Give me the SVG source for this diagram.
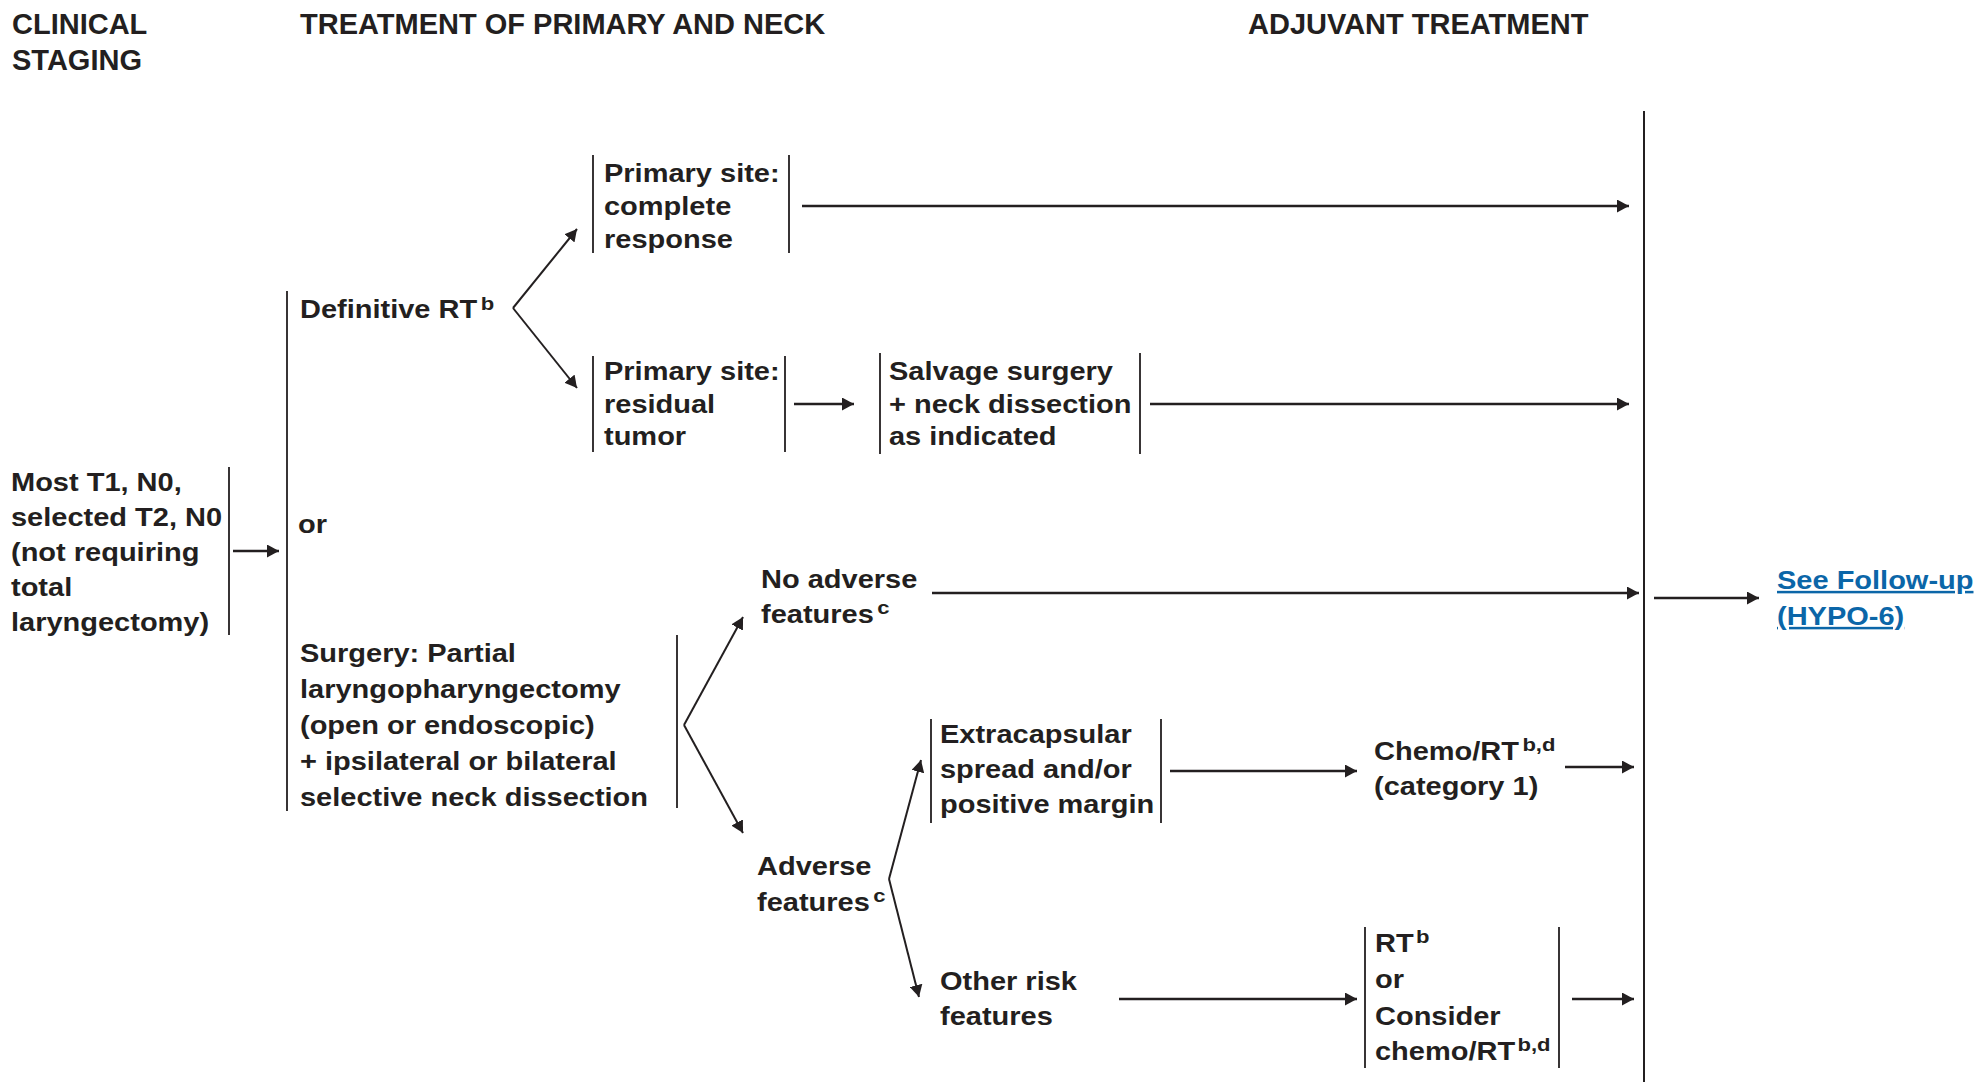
<svg xmlns="http://www.w3.org/2000/svg" width="1980" height="1082" viewBox="0 0 1980 1082">
  <style>
    .h { font-family: "Liberation Sans", Arial, Helvetica, sans-serif; font-weight: bold; font-size: 29px; fill: #231f20; }
    .t { font-family: "Liberation Sans", Arial, Helvetica, sans-serif; font-weight: bold; font-size: 25px; fill: #231f20; }
    .sup { font-size: 19px; }
    .link { fill: #0b66a8; text-decoration: underline; }
    .br { stroke: #231f20; stroke-width: 1.8; fill: none; }
    .vl { stroke: #231f20; stroke-width: 2; fill: none; }
    .ar { stroke: #231f20; stroke-width: 2.5; fill: none; marker-end: url(#head); }
    .dg { stroke: #231f20; stroke-width: 2; fill: none; marker-end: url(#head); }
  </style>
  <defs>
    <marker id="head" markerUnits="userSpaceOnUse" markerWidth="12" markerHeight="13" refX="12" refY="6.5" orient="auto">
      <path d="M0,0 L12,6.5 L0,13 Z" fill="#231f20"/>
    </marker>
  </defs>
  <rect width="1980" height="1082" fill="#ffffff"/>

  <!-- column headings -->
  <g id="headings">
    <text class="h"><tspan x="12" y="34">CLINICAL</tspan><tspan x="12" y="70">STAGING</tspan></text>
    <text class="h" x="300" y="34">TREATMENT OF PRIMARY AND NECK</text>
    <text class="h" x="1248" y="34">ADJUVANT TREATMENT</text>
  </g>

  <!-- nodes: body text is set in a horizontally widened bold sans -->
  <g id="n-staging">
    <g transform="translate(11 0) scale(1.16 1)">
      <text class="t"><tspan x="0" y="491">Most T1, N0,</tspan><tspan x="0" y="526">selected T2, N0</tspan><tspan x="0" y="561">(not requiring</tspan><tspan x="0" y="596">total</tspan><tspan x="0" y="631">laryngectomy)</tspan></text>
    </g>
    <line class="br" x1="229" y1="467" x2="229" y2="635"/>
  </g>

  <g id="n-options">
    <line class="br" x1="287" y1="291" x2="287" y2="811"/>
  </g>

  <g id="n-definitive-rt">
    <g transform="translate(300 0) scale(1.16 1)">
      <text class="t"><tspan x="0" y="318">Definitive RT</tspan><tspan class="sup" dx="3" dy="-8">b</tspan></text>
    </g>
  </g>

  <g id="n-or">
    <g transform="translate(298 0) scale(1.16 1)">
      <text class="t" x="0" y="533">or</text>
    </g>
  </g>

  <g id="n-surgery">
    <g transform="translate(300 0) scale(1.16 1)">
      <text class="t"><tspan x="0" y="662">Surgery: Partial</tspan><tspan x="0" y="698">laryngopharyngectomy</tspan><tspan x="0" y="734">(open or endoscopic)</tspan><tspan x="0" y="770">+ ipsilateral or bilateral</tspan><tspan x="0" y="806">selective neck dissection</tspan></text>
    </g>
    <line class="br" x1="677" y1="635" x2="677" y2="808"/>
  </g>

  <g id="n-complete-response">
    <line class="br" x1="593" y1="155" x2="593" y2="253"/>
    <g transform="translate(604 0) scale(1.16 1)">
      <text class="t"><tspan x="0" y="182">Primary site:</tspan><tspan x="0" y="215">complete</tspan><tspan x="0" y="248">response</tspan></text>
    </g>
    <line class="br" x1="789" y1="155" x2="789" y2="253"/>
  </g>

  <g id="n-residual-tumor">
    <line class="br" x1="593" y1="356" x2="593" y2="452"/>
    <g transform="translate(604 0) scale(1.16 1)">
      <text class="t"><tspan x="0" y="380">Primary site:</tspan><tspan x="0" y="413">residual</tspan><tspan x="0" y="445">tumor</tspan></text>
    </g>
    <line class="br" x1="785" y1="356" x2="785" y2="452"/>
  </g>

  <g id="n-salvage">
    <line class="br" x1="880" y1="353" x2="880" y2="454"/>
    <g transform="translate(889 0) scale(1.16 1)">
      <text class="t"><tspan x="0" y="380">Salvage surgery</tspan><tspan x="0" y="413">+ neck dissection</tspan><tspan x="0" y="445">as indicated</tspan></text>
    </g>
    <line class="br" x1="1140" y1="353" x2="1140" y2="454"/>
  </g>

  <g id="n-no-adverse">
    <g transform="translate(761 0) scale(1.16 1)">
      <text class="t"><tspan x="0" y="588">No adverse</tspan><tspan x="0" y="623">features</tspan><tspan class="sup" dx="3" dy="-9">c</tspan></text>
    </g>
  </g>

  <g id="n-adverse">
    <g transform="translate(757 0) scale(1.16 1)">
      <text class="t"><tspan x="0" y="875">Adverse</tspan><tspan x="0" y="911">features</tspan><tspan class="sup" dx="3" dy="-9">c</tspan></text>
    </g>
  </g>

  <g id="n-extracapsular">
    <line class="br" x1="931" y1="719" x2="931" y2="823"/>
    <g transform="translate(940 0) scale(1.16 1)">
      <text class="t"><tspan x="0" y="743">Extracapsular</tspan><tspan x="0" y="778">spread and/or</tspan><tspan x="0" y="813">positive margin</tspan></text>
    </g>
    <line class="br" x1="1161" y1="719" x2="1161" y2="823"/>
  </g>

  <g id="n-other-risk">
    <g transform="translate(940 0) scale(1.16 1)">
      <text class="t"><tspan x="0" y="990">Other risk</tspan><tspan x="0" y="1025">features</tspan></text>
    </g>
  </g>

  <g id="n-chemo-rt">
    <g transform="translate(1374 0) scale(1.16 1)">
      <text class="t"><tspan x="0" y="760">Chemo/RT</tspan><tspan class="sup" dx="3" dy="-9">b,d</tspan><tspan x="0" y="795">(category 1)</tspan></text>
    </g>
  </g>

  <g id="n-rt-or-chemo">
    <line class="br" x1="1365" y1="927" x2="1365" y2="1068"/>
    <g transform="translate(1375 0) scale(1.16 1)">
      <text class="t"><tspan x="0" y="952">RT</tspan><tspan class="sup" dx="2" dy="-9">b</tspan><tspan x="0" y="988">or</tspan><tspan x="0" y="1025">Consider</tspan><tspan x="0" y="1060">chemo/RT</tspan><tspan class="sup" dx="2" dy="-9">b,d</tspan></text>
    </g>
    <line class="br" x1="1559" y1="927" x2="1559" y2="1068"/>
  </g>

  <g id="n-collector">
    <line class="vl" x1="1644" y1="111" x2="1644" y2="1082"/>
  </g>

  <g id="n-follow-up">
    <g transform="translate(1777 0) scale(1.16 1)">
      <text class="t link"><tspan x="0" y="589">See Follow-up</tspan><tspan x="0" y="625">(HYPO-6)</tspan></text>
    </g>
  </g>

  <!-- connectors -->
  <g id="connectors">
    <line class="ar" x1="233" y1="551" x2="279" y2="551"/>
    <line class="dg" x1="513" y1="308" x2="577" y2="229"/>
    <line class="dg" x1="513" y1="308" x2="577" y2="388"/>
    <line class="ar" x1="802" y1="206" x2="1629" y2="206"/>
    <line class="ar" x1="794" y1="404" x2="854" y2="404"/>
    <line class="ar" x1="1150" y1="404" x2="1629" y2="404"/>
    <line class="dg" x1="684" y1="725" x2="743" y2="617"/>
    <line class="dg" x1="684" y1="725" x2="743" y2="833"/>
    <line class="ar" x1="932" y1="593" x2="1639" y2="593"/>
    <line class="dg" x1="889" y1="879" x2="921" y2="760"/>
    <line class="dg" x1="889" y1="879" x2="919" y2="997"/>
    <line class="ar" x1="1170" y1="771" x2="1357" y2="771"/>
    <line class="ar" x1="1565" y1="767" x2="1634" y2="767"/>
    <line class="ar" x1="1119" y1="999" x2="1357" y2="999"/>
    <line class="ar" x1="1572" y1="999" x2="1634" y2="999"/>
    <line class="ar" x1="1654" y1="598" x2="1759" y2="598"/>
  </g>
</svg>
